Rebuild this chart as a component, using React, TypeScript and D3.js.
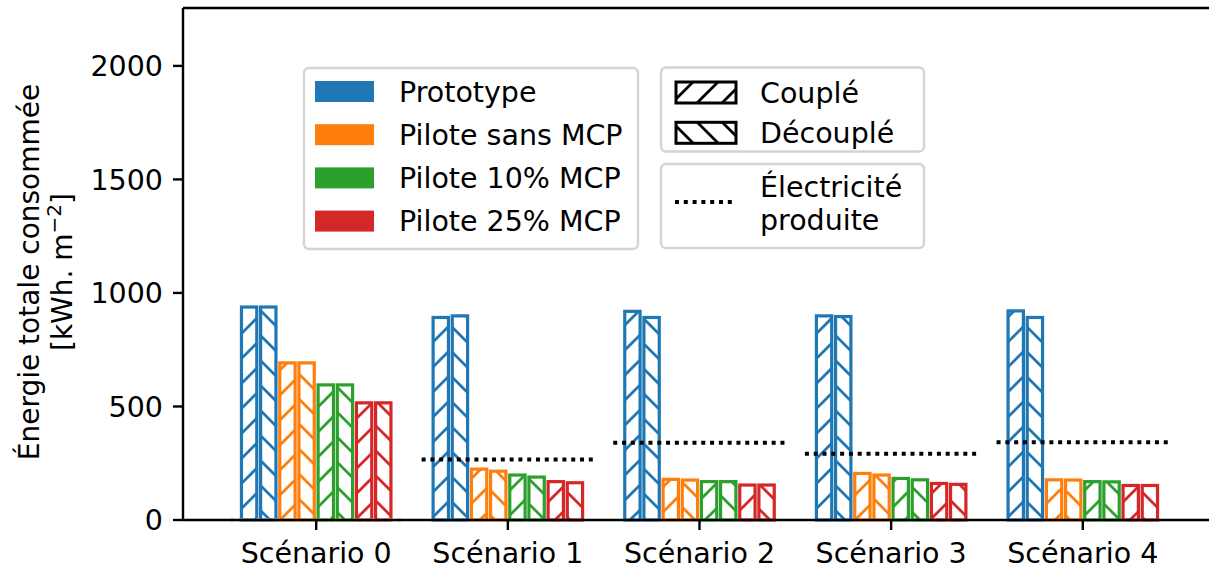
import React from "react";
import * as d3 from "d3";

// categories and series
const scenarios = ["Scénario 0", "Scénario 1", "Scénario 2", "Scénario 3", "Scénario 4"];
const seriesNames = ["Prototype", "Pilote sans MCP", "Pilote 10% MCP", "Pilote 25% MCP"];
const colors = ["#1f77b4", "#ff7f0e", "#2ca02c", "#d62728"];

// energy per scenario, kWh.m-2
const prototypeCouple = [938, 892, 919, 899, 921];
const prototypeDecouple = [938, 899, 892, 896, 892];
const sansCouple = [692, 224, 179, 205, 177];
const sansDecouple = [692, 215, 176, 198, 176];
const mcp10Couple = [595, 198, 169, 183, 169];
const mcp10Decouple = [595, 189, 169, 177, 168];
const mcp25Couple = [516, 169, 154, 161, 152];
const mcp25Decouple = [516, 164, 154, 157, 152];
const electricite = [0, 267, 340, 292, 342];

const yTicks = [0, 500, 1000, 1500, 2000];

const couples = [prototypeCouple, sansCouple, mcp10Couple, mcp25Couple];
const decouples = [prototypeDecouple, sansDecouple, mcp10Decouple, mcp25Decouple];

const width = 1209;
const height = 570;
const font = "DejaVu Sans";
const fs = 28.5;

const x = d3.scaleLinear().domain([-0.695, 4.695]).range([183, 1216]);
const y = d3.scaleLinear().domain([0, 2255]).range([520, 8]);

const barW = 0.08;
const step = 0.1;
const period = 25;

const Hatch = ({ id, color, back }: { id: string; color: string; back: boolean }) => {
  const p = period;
  const d = back
    ? `M0,0L${p},${p}M${-p / 2},${p / 2}L${p / 2},${p * 1.5}M${p / 2},${-p / 2}L${p * 1.5},${p / 2}`
    : `M0,${p}L${p},0M${-p / 2},${p / 2}L${p / 2},${-p / 2}M${p / 2},${p * 1.5}L${p * 1.5},${p / 2}`;
  return (
    <pattern id={id} width={p} height={p} patternUnits="userSpaceOnUse">
      <rect width={p} height={p} fill="white" />
      <path d={d} stroke={color} strokeWidth={2.8} />
    </pattern>
  );
};

const App = () => {
  const bars: any[] = [];
  scenarios.forEach((s, si) => {
    seriesNames.forEach((n, i) => {
      [couples[i], decouples[i]].forEach((vals, j) => {
        const k = 2 * i + j;
        const cx = si + (k - 3.5) * step;
        bars.push({
          key: `${si}-${k}`,
          x0: x(cx - barW / 2),
          x1: x(cx + barW / 2),
          y0: y(vals[si]),
          color: colors[i],
          fill: `url(#h-${i}-${j})`,
        });
      });
    });
  });

  return (
    <svg
      width={width}
      height={height}
      style={{ position: "absolute", left: 0, top: 0, background: "white" }}
      fontFamily={font}
    >
      <defs>
        {colors.map((c, i) => (
          <React.Fragment key={c}>
            <Hatch id={`h-${i}-0`} color={c} back={false} />
            <Hatch id={`h-${i}-1`} color={c} back={true} />
          </React.Fragment>
        ))}
        <Hatch id="h-k-0" color="black" back={false} />
        <Hatch id="h-k-1" color="black" back={true} />
      </defs>

      {/* bars */}
      {bars.map((b) => (
        <rect
          key={b.key}
          x={b.x0}
          y={b.y0}
          width={b.x1 - b.x0}
          height={y(0) - b.y0}
          fill={b.fill}
          stroke={b.color}
          strokeWidth={3.2}
        />
      ))}

      {/* produced electricity */}
      {electricite.map((v, si) => (
        <line
          key={si}
          x1={x(si - 0.45)}
          x2={x(si + 0.45)}
          y1={y(v)}
          y2={y(v)}
          stroke={v === 0 ? "#d9bd70" : "black"}
          strokeOpacity={v === 0 ? 0.7 : 1}
          strokeWidth={4}
          strokeDasharray="4 4.8"
        />
      ))}

      {/* axes */}
      <line x1={183} x2={183} y1={8} y2={520} stroke="black" strokeWidth={2.4} />
      <line x1={183} x2={width} y1={8} y2={8} stroke="black" strokeWidth={2.4} />
      <line x1={183} x2={width} y1={520} y2={520} stroke="black" strokeWidth={2.4} />
      {yTicks.map((t) => (
        <g key={t} transform={`translate(0,${y(t)})`}>
          <line x1={173} x2={183} stroke="black" strokeWidth={2.4} />
          <text x={163} dy="0.36em" textAnchor="end" fontSize={fs}>
            {t}
          </text>
        </g>
      ))}
      {scenarios.map((s, si) => (
        <g key={s} transform={`translate(${x(si)},520)`}>
          <line y2={10} stroke="black" strokeWidth={2.4} />
          <text y={43} textAnchor="middle" fontSize={fs}>
            {s}
          </text>
        </g>
      ))}

      {/* y label */}
      <g transform="translate(0,272) rotate(-90)" fontSize={28}>
        <text y={39} textAnchor="middle">Énergie totale consommée</text>
        <text y={72} textAnchor="middle">
          [kWh. m<tspan dy={-11} fontSize={20}>−2</tspan>
          <tspan dy={11}>]</tspan>
        </text>
      </g>

      {/* legend: series */}
      <rect x={304} y={68} width={334} height={181} rx={5} fill="white" fillOpacity={0.8} stroke="#d4d4d4" strokeWidth={2.4} />
      {seriesNames.map((n, i) => {
        const cy = 91.5 + i * 43.2;
        return (
          <g key={n}>
            <rect x={315} y={cy - 10.5} width={59} height={21} fill={colors[i]} />
            <text x={399} y={cy + 10.3} fontSize={fs}>
              {n}
            </text>
          </g>
        );
      })}

      {/* legend: hatches */}
      <rect x={661} y={67.5} width={263} height={84} rx={5} fill="white" fillOpacity={0.8} stroke="#d4d4d4" strokeWidth={2.4} />
      {["Couplé", "Découplé"].map((n, j) => {
        const cy = 92.5 + j * 40.3;
        return (
          <g key={n}>
            <rect x={676} y={cy - 10.5} width={60} height={21} fill={`url(#h-k-${j})`} stroke="black" strokeWidth={3} />
            <text x={760} y={cy + 10.3} fontSize={fs}>
              {n}
            </text>
          </g>
        );
      })}

      {/* legend: electricity */}
      <rect x={661} y={164} width={263} height={84} rx={5} fill="white" fillOpacity={0.8} stroke="#d4d4d4" strokeWidth={2.4} />
      <line x1={675} x2={735} y1={202} y2={202} stroke="black" strokeWidth={4} strokeDasharray="4 4.8" />
      <text x={760} y={196.5} fontSize={fs}>
        Électricité
      </text>
      <text x={760} y={230} fontSize={fs}>
        produite
      </text>
    </svg>
  );
};

export default App;
